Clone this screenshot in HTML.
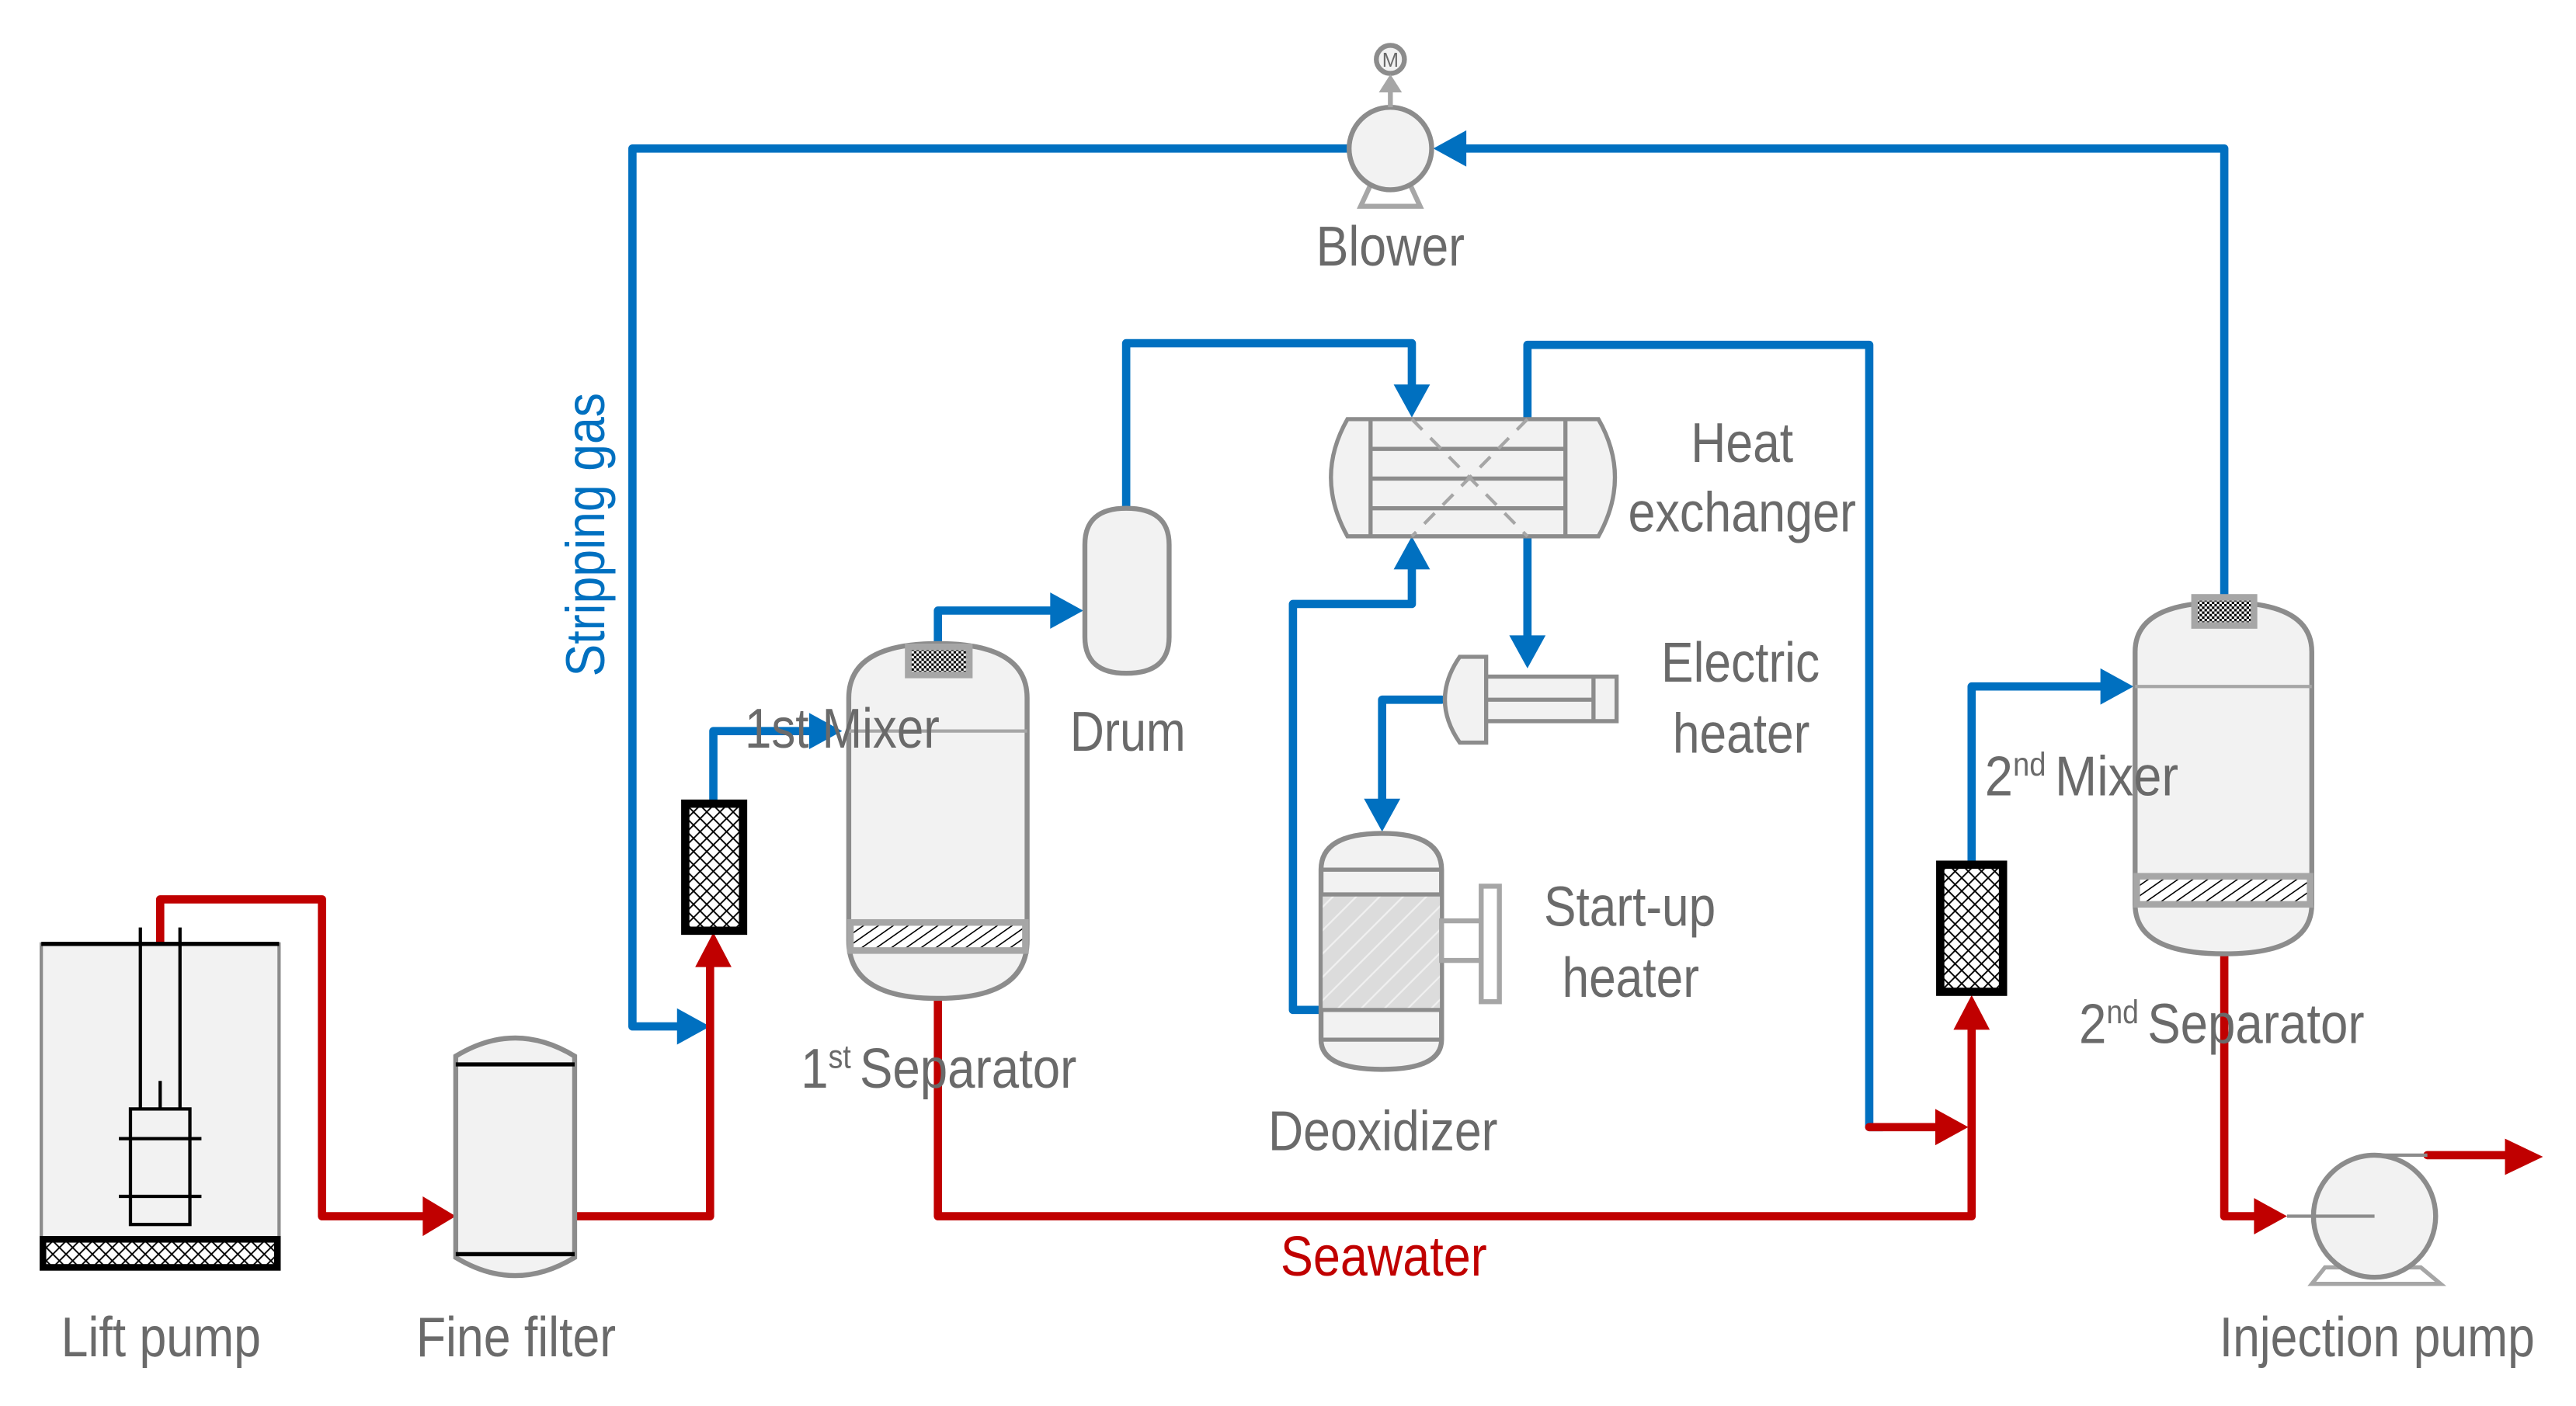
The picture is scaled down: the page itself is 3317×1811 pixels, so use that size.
<!DOCTYPE html>
<html><head><meta charset="utf-8"><style>
html,body{margin:0;padding:0;background:#fff;}
svg{display:block;}
text{font-family:"Liberation Sans",Arial,sans-serif;fill:#6a6a6a;}
</style></head><body>
<svg width="3317" height="1811" viewBox="0 0 1560 852" preserveAspectRatio="none" xmlns="http://www.w3.org/2000/svg">
<defs>
<pattern id="xh" width="8" height="8" patternUnits="userSpaceOnUse"><rect width="8" height="8" fill="#fff"/><path d="M0 0L8 8M8 0L0 8" stroke="#000" stroke-width="0.9"/></pattern>
<pattern id="dk" width="3" height="3" patternUnits="userSpaceOnUse"><rect width="3" height="3" fill="#fff"/><rect width="1.5" height="1.5" fill="#000"/><rect x="1.5" y="1.5" width="1.5" height="1.5" fill="#000"/></pattern>
<pattern id="sl" width="9" height="20" patternUnits="userSpaceOnUse" patternTransform="skewX(-55)"><rect width="9" height="20" fill="#fff"/><line x1="1" y1="0" x2="1" y2="20" stroke="#000" stroke-width="1.3"/></pattern>
<pattern id="dh" width="10" height="10" patternUnits="userSpaceOnUse" patternTransform="rotate(-45)"><rect width="10" height="10" fill="#dcdcdc"/><line x1="0" y1="5" x2="10" y2="5" stroke="#f0f0f0" stroke-width="1"/></pattern>
</defs>

<g fill="none" stroke="#0070c0" stroke-width="5" stroke-linejoin="round" stroke-linecap="round">
<path d="M818 90H383V622H412"/>
<path d="M885 90H1347V365"/>
<path d="M432 486V443H492"/>
<path d="M568 392V370H638"/>
<path d="M682 308V208H855V236"/>
<path d="M925 253V209H1132V683H1140"/>
<path d="M855 342V366H783V612H800"/>
<path d="M925 325V388"/>
<path d="M873 424H837V486"/>
<path d="M1194 523V416H1273"/>
</g>
<g fill="#0070c0">
<polygon points="868,90 888,79 888,101"/>
<polygon points="430,622 410,611 410,633"/>
<polygon points="510,443 490,432 490,454"/>
<polygon points="656,370 636,359 636,381"/>
<polygon points="855,253 844,233 866,233"/>
<polygon points="855,325 844,345 866,345"/>
<polygon points="925,405 914,385 936,385"/>
<polygon points="837,504 826,484 848,484"/>
<polygon points="1292,416 1272,405 1272,427"/>
</g>

<g fill="none" stroke="#c00000" stroke-width="5" stroke-linejoin="round" stroke-linecap="round">
<path d="M97 572V545H195V737H258"/>
<path d="M348 737H430V585"/>
<path d="M568 605V737H1194V622"/>
<path d="M1132 683H1175"/>
<path d="M1347 578V737H1366"/>
<path d="M1470 700H1520"/>
</g>
<g fill="#c00000">
<polygon points="276,737 256,725 256,749"/>
<polygon points="432,565 421,586 443,586"/>
<polygon points="1194,603 1183,624 1205,624"/>
<polygon points="1192,683 1172,672 1172,694"/>
<polygon points="1385,737 1365,726 1365,748"/>
<polygon points="1540,701 1517,690 1517,712"/>
</g>

<g stroke="#8c8c8c" stroke-width="3">
<polygon points="830,112 824,125 860,125 854,112" fill="none" stroke="#a6a6a6"/>
<circle cx="842" cy="90" r="25" fill="#f2f2f2"/>
<line x1="842" y1="65" x2="842" y2="55" stroke="#a6a6a6"/>
<circle cx="842" cy="36" r="8.5" fill="#f2f2f2"/>
</g>
<polygon points="842,45 835,56 849,56" fill="#a6a6a6"/>
<text x="842" y="40.5" font-size="12" text-anchor="middle">M</text>

<rect x="25" y="572" width="144" height="178" fill="#f2f2f2" stroke="#8c8c8c" stroke-width="2"/>
<line x1="25" y1="572" x2="169" y2="572" stroke="#000" stroke-width="2.5"/>
<rect x="26" y="751" width="142" height="17" fill="url(#xh)" stroke="#000" stroke-width="4"/>
<g stroke="#000" stroke-width="2" fill="none">
<line x1="85" y1="562" x2="85" y2="672"/>
<line x1="109" y1="562" x2="109" y2="672"/>
<line x1="97" y1="655" x2="97" y2="672"/>
<rect x="79" y="672" width="36" height="70"/>
<line x1="72" y1="690" x2="122" y2="690"/>
<line x1="72" y1="725" x2="122" y2="725"/>
</g>

<path d="M276 640Q312 618 348 640V762Q312 784 276 762Z" fill="#f2f2f2" stroke="#8c8c8c" stroke-width="3"/>
<line x1="276" y1="645" x2="348" y2="645" stroke="#000" stroke-width="2.5"/>
<line x1="276" y1="760" x2="348" y2="760" stroke="#000" stroke-width="2.5"/>

<rect x="415" y="487" width="35" height="77" fill="url(#xh)" stroke="#000" stroke-width="5"/>
<rect x="1175" y="524" width="38" height="77" fill="url(#xh)" stroke="#000" stroke-width="5"/>

<path d="M514 423Q514 390 568 390Q622 390 622 423V570Q622 605 568 605Q514 605 514 570Z" fill="#f2f2f2" stroke="#8c8c8c" stroke-width="3"/>
<line x1="514" y1="443" x2="622" y2="443" stroke="#a6a6a6" stroke-width="2"/>
<rect x="515" y="559" width="106" height="17" fill="url(#sl)" stroke="#a6a6a6" stroke-width="4"/>
<rect x="550" y="392" width="37" height="17" fill="url(#dk)" stroke="#a6a6a6" stroke-width="4"/>

<path d="M1293 395Q1293 365 1347 365Q1400 365 1400 395V548Q1400 578 1347 578Q1293 578 1293 548Z" fill="#f2f2f2" stroke="#8c8c8c" stroke-width="3"/>
<line x1="1293" y1="416" x2="1400" y2="416" stroke="#a6a6a6" stroke-width="2"/>
<rect x="1294" y="531" width="105" height="17" fill="url(#sl)" stroke="#a6a6a6" stroke-width="4"/>
<rect x="1329" y="362" width="36" height="17" fill="url(#dk)" stroke="#a6a6a6" stroke-width="4"/>

<path d="M657 330Q657 308 682 308Q708 308 708 330V386Q708 408 682 408Q657 408 657 386Z" fill="#f2f2f2" stroke="#8c8c8c" stroke-width="3"/>

<path d="M816 254H968Q988 289 968 325H816Q796 289 816 254Z" fill="#f2f2f2" stroke="#8c8c8c" stroke-width="2.5"/>
<g stroke="#8c8c8c" stroke-width="2.5">
<line x1="830" y1="254" x2="830" y2="325"/>
<line x1="948" y1="254" x2="948" y2="325"/>
<line x1="830" y1="272" x2="948" y2="272"/>
<line x1="830" y1="290" x2="948" y2="290"/>
<line x1="830" y1="308" x2="948" y2="308"/>
</g>
<g stroke="#a6a6a6" stroke-width="2" stroke-dasharray="9,7">
<line x1="855" y1="254" x2="925" y2="325"/>
<line x1="925" y1="254" x2="855" y2="325"/>
</g>

<path d="M884 398H900V450H884Q866 424 884 398Z" fill="#f2f2f2" stroke="#8c8c8c" stroke-width="2.5"/>
<rect x="900" y="410" width="79" height="27" fill="#f2f2f2" stroke="#8c8c8c" stroke-width="2.5"/>
<line x1="900" y1="424" x2="965" y2="424" stroke="#8c8c8c" stroke-width="2.5"/>
<line x1="965" y1="410" x2="965" y2="437" stroke="#8c8c8c" stroke-width="2.5"/>

<path d="M800 527Q800 505 837 505Q873 505 873 527V630Q873 648 837 648Q800 648 800 630Z" fill="#f2f2f2" stroke="#8c8c8c" stroke-width="3"/>
<rect x="801" y="542" width="71" height="70" fill="url(#dh)"/>
<g stroke="#8c8c8c" stroke-width="2.5">
<line x1="800" y1="527" x2="873" y2="527"/>
<line x1="800" y1="542" x2="873" y2="542"/>
<line x1="800" y1="612" x2="873" y2="612"/>
<line x1="800" y1="630" x2="873" y2="630"/>
</g>
<rect x="873" y="558" width="24" height="24" fill="#fff" stroke="#a6a6a6" stroke-width="3"/>
<rect x="897" y="537" width="11" height="70" fill="#fff" stroke="#a6a6a6" stroke-width="3"/>

<polygon points="1408,768 1400,778 1478,778 1466,768" fill="none" stroke="#a6a6a6" stroke-width="2.5"/>
<ellipse cx="1438" cy="737" rx="37" ry="37" fill="#f2f2f2" stroke="#8c8c8c" stroke-width="3"/>
<line x1="1385" y1="737" x2="1438" y2="737" stroke="#8c8c8c" stroke-width="2"/>
<line x1="1438" y1="700" x2="1470" y2="700" stroke="#8c8c8c" stroke-width="2"/>

<g font-size="34">
<text x="842" y="161" text-anchor="middle" textLength="90" lengthAdjust="spacingAndGlyphs">Blower</text>
<text x="451" y="453" textLength="118" lengthAdjust="spacingAndGlyphs">1st Mixer</text>
<text x="648" y="455" textLength="70" lengthAdjust="spacingAndGlyphs">Drum</text>
<text x="1024" y="280" textLength="62" lengthAdjust="spacingAndGlyphs">Heat</text>
<text x="986" y="322" textLength="138" lengthAdjust="spacingAndGlyphs">exchanger</text>
<text x="1006" y="413" textLength="96" lengthAdjust="spacingAndGlyphs">Electric</text>
<text x="1013" y="456" textLength="83" lengthAdjust="spacingAndGlyphs">heater</text>
<text x="935" y="561" textLength="104" lengthAdjust="spacingAndGlyphs">Start-up</text>
<text x="946" y="604" textLength="83" lengthAdjust="spacingAndGlyphs">heater</text>
<text x="768" y="697" textLength="139" lengthAdjust="spacingAndGlyphs">Deoxidizer</text>
<text x="838" y="773" text-anchor="middle" style="fill:#c00000" textLength="125" lengthAdjust="spacingAndGlyphs">Seawater</text>
<text x="37" y="822" textLength="121" lengthAdjust="spacingAndGlyphs">Lift pump</text>
<text x="252" y="822" textLength="121" lengthAdjust="spacingAndGlyphs">Fine filter</text>
<text x="1344" y="822" textLength="191" lengthAdjust="spacingAndGlyphs">Injection pump</text>
<g transform="translate(485,659) scale(0.88,1)"><text x="0" y="0">1<tspan font-size="20" dy="-12">st</tspan><tspan dy="12" dx="6">Separator</tspan></text></g>
<g transform="translate(1202,482) scale(0.9,1)"><text x="0" y="0">2<tspan font-size="20" dy="-12">nd</tspan><tspan dy="12" dx="6">Mixer</tspan></text></g>
<g transform="translate(1259,632) scale(0.88,1)"><text x="0" y="0">2<tspan font-size="20" dy="-12">nd</tspan><tspan dy="12" dx="6">Separator</tspan></text></g>
<text transform="translate(366,410) rotate(-90)" style="fill:#0070c0" font-size="33" textLength="172" lengthAdjust="spacingAndGlyphs">Stripping gas</text>
</g>
</svg>
</body></html>
